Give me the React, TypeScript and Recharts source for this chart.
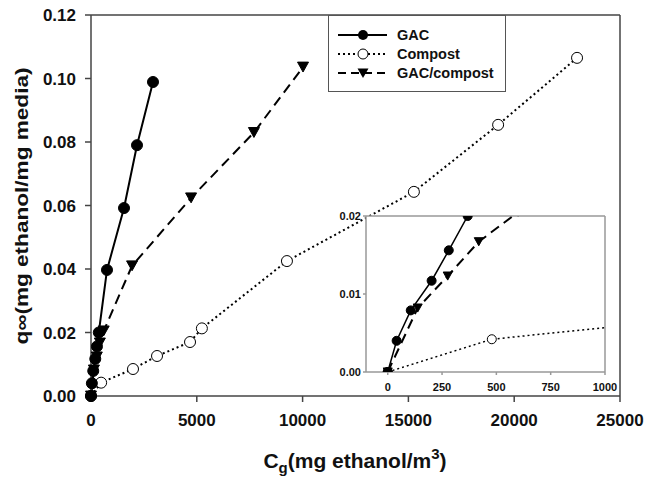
import React from 'react';
import { LineChart, Line, XAxis, YAxis, ReferenceLine, Legend, CartesianGrid } from 'recharts';

// ---- data ----
const gacX = [0, 41, 106, 202, 281, 368, 756, 1560, 2174, 2930];
const gacY = [0, 0.004, 0.0079, 0.0117, 0.0156, 0.02, 0.0397, 0.0592, 0.079, 0.0989];

const compostX = [0, 479, 1985, 3120, 4680, 5240, 9260, 15260, 19240, 22970];
const compostY = [0, 0.0042, 0.0085, 0.0126, 0.017, 0.0213, 0.0425, 0.0643, 0.0854, 0.1065];

const mixX = [0, 138, 276, 419, 600, 1940, 4730, 7700, 10020];
const mixY = [0, 0.0082, 0.0123, 0.0167, 0.0205, 0.041, 0.0624, 0.083, 0.1036];

const seriesNames = ['GAC', 'Compost', 'GAC/compost'];

const xTicks = [0, 5000, 10000, 15000, 20000, 25000];
const yTicks = [0, 0.02, 0.04, 0.06, 0.08, 0.1, 0.12];
const insetXTicks = [0, 250, 500, 750, 1000];
const insetYTicks = [0, 0.01, 0.02];

const zip = (xs: number[], ys: number[]) => xs.map((x, i) => ({ x, y: ys[i] }));
const gacData = zip(gacX, gacY);
const compostData = zip(compostX, compostY);
const mixData = zip(mixX, mixY);

const FONT = '"Liberation Sans", Arial, sans-serif';
const AXIS = '#444';
const INSET = '#999';

const makeFilledCircle = (r: number) => (p: any) => (
  <circle key={`fc-${p.index}`} cx={p.cx} cy={p.cy} r={r} fill="#000" stroke="#000" strokeWidth={1} />
);
const makeOpenCircle = (r: number) => (p: any) => (
  <circle key={`oc-${p.index}`} cx={p.cx} cy={p.cy} r={r} fill="#fff" stroke="#000" strokeWidth={1} />
);
const makeTriangle = (s: number) => (p: any) => {
  const h = s * 0.9;
  return (
    <path
      key={`tr-${p.index}`}
      d={`M${p.cx - s / 2},${p.cy - h / 2} L${p.cx + s / 2},${p.cy - h / 2} L${p.cx},${p.cy + h / 2} Z`}
      fill="#000"
      stroke="#000"
      strokeWidth={1}
    />
  );
};

const LegendBox = () => {
  const rows = [
    { name: seriesNames[0], dash: undefined, marker: 'fc' },
    { name: seriesNames[1], dash: '2 3', marker: 'oc' },
    { name: seriesNames[2], dash: '8 5', marker: 'tr' },
  ];
  return (
    <div
      style={{
        width: 178,
        height: 77,
        border: '1.5px solid #555',
        background: '#fff',
        boxSizing: 'border-box',
        paddingTop: 9,
        fontFamily: FONT,
      }}
    >
      {rows.map((r) => (
        <div key={r.name} style={{ display: 'flex', alignItems: 'center', height: 19 }}>
          <svg width={68} height={16} style={{ display: 'block' }}>
            <line x1={9} y1={8} x2={58} y2={8} stroke="#000" strokeWidth={2} strokeDasharray={r.dash} />
            {r.marker === 'fc' && <circle cx={34} cy={8} r={5} fill="#000" />}
            {r.marker === 'oc' && <circle cx={34} cy={8} r={5} fill="#fff" stroke="#000" strokeWidth={1} />}
            {r.marker === 'tr' && <path d="M28.5,3.5 L39.5,3.5 L34,13 Z" fill="#000" />}
          </svg>
          <span style={{ fontWeight: 'bold', fontSize: 14.5, color: '#111' }}>{r.name}</span>
        </div>
      ))}
    </div>
  );
};

const YLabel = () => (
  <text
    x={21}
    y={206}
    transform="rotate(-90 21 206)"
    textAnchor="middle"
    dominantBaseline="central"
    fontFamily={FONT}
    fontWeight="bold"
    fontSize={19}
    textLength={277}
    lengthAdjust="spacingAndGlyphs"
    fill="#111"
  >
    q∞(mg ethanol/mg media)
  </text>
);

const XLabel = () => (
  <text x={355} y={468} textAnchor="middle" fontFamily={FONT} fontWeight="bold" fontSize={21} fill="#111">
    C<tspan fontSize={15} dy={5}>g</tspan>
    <tspan dy={-5}>(mg ethanol/m</tspan>
    <tspan fontSize={15} dy={-9}>3</tspan>
    <tspan dy={9}>)</tspan>
  </text>
);

export default function App() {
  const tickStyle = { fill: '#111', fontSize: 17, fontWeight: 'bold', fontFamily: FONT };
  const insetTick = { fill: '#111', fontSize: 11, fontWeight: 'bold', fontFamily: FONT };
  return (
    <div style={{ position: 'absolute', left: 0, top: 0, width: 646, height: 477, background: '#fff' }}>
      <div style={{ position: 'absolute', left: 0, top: 0 }}>
        <LineChart width={646} height={477} margin={{ top: 15, right: 26, left: 0, bottom: 0 }}>
          <XAxis
            type="number"
            dataKey="x"
            domain={[0, 25000]}
            ticks={xTicks}
            interval={0}
            height={81}
            stroke={AXIS}
            strokeWidth={1.5}
            tickSize={6}
            tickMargin={12}
            tick={tickStyle}
            label={<XLabel />}
          />
          <YAxis
            type="number"
            dataKey="y"
            domain={[0, 0.12]}
            ticks={yTicks}
            interval={0}
            width={91}
            stroke={AXIS}
            strokeWidth={1.5}
            tickSize={6}
            tickMargin={9}
            tick={tickStyle}
            tickFormatter={(v: number) => v.toFixed(2)}
            label={<YLabel />}
          />
          <ReferenceLine y={0.12} stroke={AXIS} strokeWidth={1.5} />
          <ReferenceLine x={25000} stroke={AXIS} strokeWidth={1.5} />
          <Legend
            layout="horizontal"
            verticalAlign="middle"
            align="center"
            wrapperStyle={{ position: 'absolute', left: 328, top: 15, width: 178, height: 77 }}
            content={() => <LegendBox />}
          />
          <Line
            data={compostData}
            dataKey="y"
            name={seriesNames[1]}
            stroke="#000"
            strokeWidth={2}
            strokeDasharray="2 3"
            dot={makeOpenCircle(5.5)}
            isAnimationActive={false}
          />
          <Line
            data={mixData}
            dataKey="y"
            name={seriesNames[2]}
            stroke="#000"
            strokeWidth={2}
            strokeDasharray="10 6"
            dot={makeTriangle(11)}
            isAnimationActive={false}
          />
          <Line
            data={gacData}
            dataKey="y"
            name={seriesNames[0]}
            stroke="#000"
            strokeWidth={2}
            dot={makeFilledCircle(5.5)}
            isAnimationActive={false}
          />
        </LineChart>
      </div>
      <div style={{ position: 'absolute', left: 330, top: 206 }}>
        <LineChart width={290} height={190} margin={{ top: 10, right: 15, left: 0, bottom: 0 }}>
          <CartesianGrid fill="#fff" stroke="none" />
          <XAxis
            type="number"
            dataKey="x"
            domain={[-100, 1000]}
            allowDataOverflow
            ticks={insetXTicks}
            interval={0}
            height={24}
            stroke={INSET}
            strokeWidth={1.5}
            tickSize={3}
            tickMargin={8}
            tick={insetTick}
          />
          <YAxis
            type="number"
            dataKey="y"
            domain={[0, 0.02]}
            allowDataOverflow
            ticks={insetYTicks}
            interval={0}
            width={36}
            stroke={INSET}
            strokeWidth={1.5}
            tickSize={3}
            tickMargin={2}
            tick={insetTick}
            tickFormatter={(v: number) => v.toFixed(2)}
          />
          <ReferenceLine y={0.02} stroke={INSET} strokeWidth={1.5} />
          <ReferenceLine x={1000} stroke={INSET} strokeWidth={1.5} />
          <Line
            data={compostData}
            dataKey="y"
            stroke="#000"
            strokeWidth={1.5}
            strokeDasharray="2 3"
            dot={makeOpenCircle(4.5)}
            isAnimationActive={false}
          />
          <Line
            data={mixData}
            dataKey="y"
            stroke="#000"
            strokeWidth={2}
            strokeDasharray="10 6"
            dot={makeTriangle(9)}
            isAnimationActive={false}
          />
          <Line
            data={gacData}
            dataKey="y"
            stroke="#000"
            strokeWidth={1.5}
            dot={makeFilledCircle(4.5)}
            isAnimationActive={false}
          />
        </LineChart>
      </div>
    </div>
  );
}
